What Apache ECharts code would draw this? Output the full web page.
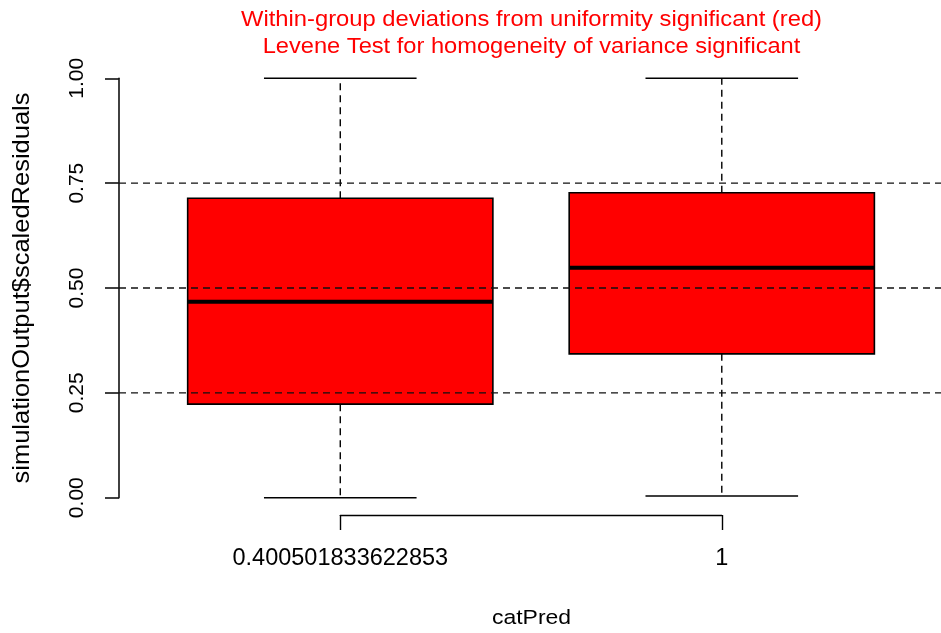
<!DOCTYPE html>
<html>
<head>
<meta charset="utf-8">
<script src="https://cdn.jsdelivr.net/npm/echarts@6/dist/echarts.min.js"></script>
<style>
  html, body { margin: 0; padding: 0; background: #ffffff; }
  #chart { width: 941px; height: 633px; }
</style>
</head>
<body>
<div id="chart"></div>
<script>
// Group labels and five-number summaries of the scaled residuals
const categories = ['0.400501833622853', '1'];
const whiskerLow = [0.000, 0.004];
const lowerQuartile = [0.223, 0.343];
const medians = [0.467, 0.548];
const upperQuartile = [0.714, 0.727];
const whiskerHigh = [1.000, 1.000];

// Axis ticks and dashed reference levels
const yTicks = [0, 0.25, 0.5, 0.75, 1];
const referenceLevels = [0.25, 0.5, 0.75];

// Texts
const titleLines = [
  'Within-group deviations from uniformity significant (red)',
  'Levene Test for homogeneity of variance significant'
];
const xName = 'catPred';
const yName = 'simulationOutput$scaledResiduals';

const FONT = '"Liberation Sans", Arial, Helvetica, sans-serif';
const BOX_HALF = 0.4;   // half box width in x units
const CAP_HALF = 0.2;   // half staple width in x units
const DASH = [7, 5];

// plotting range along x: groups sit at 1 and 2, region runs to the right edge
const X_MIN = 0.42;
const X_MAX = 2.5746;

const boxRows = categories.map((c, i) => [
  i + 1, whiskerLow[i], lowerQuartile[i], medians[i], upperQuartile[i], whiskerHigh[i]
]);
const levelRows = referenceLevels.map(v => [1.5, v]);

function renderBox(params, api) {
  const x = api.value(0);
  const lo = api.coord([x, api.value(1)]);
  const q1 = api.coord([x, api.value(2)]);
  const md = api.coord([x, api.value(3)]);
  const q3 = api.coord([x, api.value(4)]);
  const hi = api.coord([x, api.value(5)]);
  const left = api.coord([x - BOX_HALF, 0])[0];
  const right = api.coord([x + BOX_HALF, 0])[0];
  const capL = api.coord([x - CAP_HALF, 0])[0];
  const capR = api.coord([x + CAP_HALF, 0])[0];
  const cx = lo[0];
  const thin = { stroke: '#000', lineWidth: 1.4 };
  const dashed = { stroke: '#000', lineWidth: 1.4, lineDash: DASH };
  return {
    type: 'group',
    children: [
      { type: 'line', shape: { x1: cx, y1: q3[1], x2: cx, y2: hi[1] }, style: dashed },
      { type: 'line', shape: { x1: cx, y1: q1[1], x2: cx, y2: lo[1] }, style: dashed },
      { type: 'line', shape: { x1: capL, y1: hi[1], x2: capR, y2: hi[1] }, style: thin },
      { type: 'line', shape: { x1: capL, y1: lo[1], x2: capR, y2: lo[1] }, style: thin },
      {
        type: 'rect',
        shape: { x: left, y: q3[1], width: right - left, height: q1[1] - q3[1] },
        style: { fill: '#ff0000', stroke: '#000', lineWidth: 1.6 }
      },
      { type: 'line', shape: { x1: left, y1: md[1], x2: right, y2: md[1] }, style: { stroke: '#000', lineWidth: 4 } }
    ]
  };
}

function renderLevel(params, api) {
  const cs = params.coordSys;
  const y = api.coord([api.value(0), api.value(1)])[1];
  return {
    type: 'line',
    shape: { x1: cs.x, y1: y, x2: cs.x + cs.width, y2: y },
    style: { stroke: '#111', lineWidth: 1.4, lineDash: DASH }
  };
}

const chart = echarts.init(document.getElementById('chart'), null, { renderer: 'canvas' });

chart.setOption({
  backgroundColor: '#ffffff',
  animation: false,
  textStyle: { fontFamily: FONT },
  grid: [
    { left: 119, top: 78.3, right: 0, height: 419.4 },
    { left: 340.3, top: 500, width: 381.5, height: 15 }
  ],
  xAxis: [
    { type: 'value', gridIndex: 0, min: X_MIN, max: X_MAX, show: false },
    {
      type: 'category', gridIndex: 1, data: categories, boundaryGap: false,
      position: 'bottom',
      axisLine: { show: true, lineStyle: { color: '#000', width: 1.4 } },
      axisTick: { show: true, length: 15, lineStyle: { color: '#000', width: 1.4 } },
      axisLabel: { interval: 0, color: '#000', fontSize: 23.5, margin: 32, fontFamily: FONT },
      splitLine: { show: false }
    }
  ],
  yAxis: [
    {
      type: 'value', gridIndex: 0, min: 0, max: 1, interval: 0.25,
      axisLine: { show: true, lineStyle: { color: '#111', width: 1.6 } },
      axisTick: { show: true, length: 14, lineStyle: { color: '#111', width: 1.6 } },
      axisLabel: {
        rotate: 90, color: '#000', fontSize: 21, margin: 31, fontFamily: FONT,
        customValues: yTicks,
        formatter: v => v.toFixed(2)
      },
      splitLine: { show: false }
    },
    { type: 'value', gridIndex: 1, show: false, min: 0, max: 1 }
  ],
  graphic: [
    {
      type: 'text', x: 531.5, y: 20.3, scaleX: 1.08,
      style: { text: titleLines[0], fill: '#ff0000', font: '22px ' + FONT, align: 'center', verticalAlign: 'middle' }
    },
    {
      type: 'text', x: 531.5, y: 47, scaleX: 1.075,
      style: { text: titleLines[1], fill: '#ff0000', font: '22px ' + FONT, align: 'center', verticalAlign: 'middle' }
    },
    {
      type: 'text', x: 531.5, y: 618, scaleX: 1.12,
      style: { text: xName, fill: '#000', font: '20.5px ' + FONT, align: 'center', verticalAlign: 'middle' }
    },
    {
      type: 'text', x: 22, y: 288, rotation: Math.PI / 2, scaleX: 1.04,
      style: { text: yName, fill: '#000', font: '24.5px ' + FONT, align: 'center', verticalAlign: 'middle' }
    }
  ],
  series: [
    {
      type: 'custom', name: 'boxes', xAxisIndex: 0, yAxisIndex: 0,
      renderItem: renderBox, data: boxRows,
      encode: { x: 0, y: [1, 2, 3, 4, 5] }, z: 2
    },
    {
      type: 'custom', name: 'levels', xAxisIndex: 0, yAxisIndex: 0,
      renderItem: renderLevel, data: levelRows,
      encode: { x: 0, y: 1 }, z: 3, silent: true
    }
  ]
});
</script>
</body>
</html>
